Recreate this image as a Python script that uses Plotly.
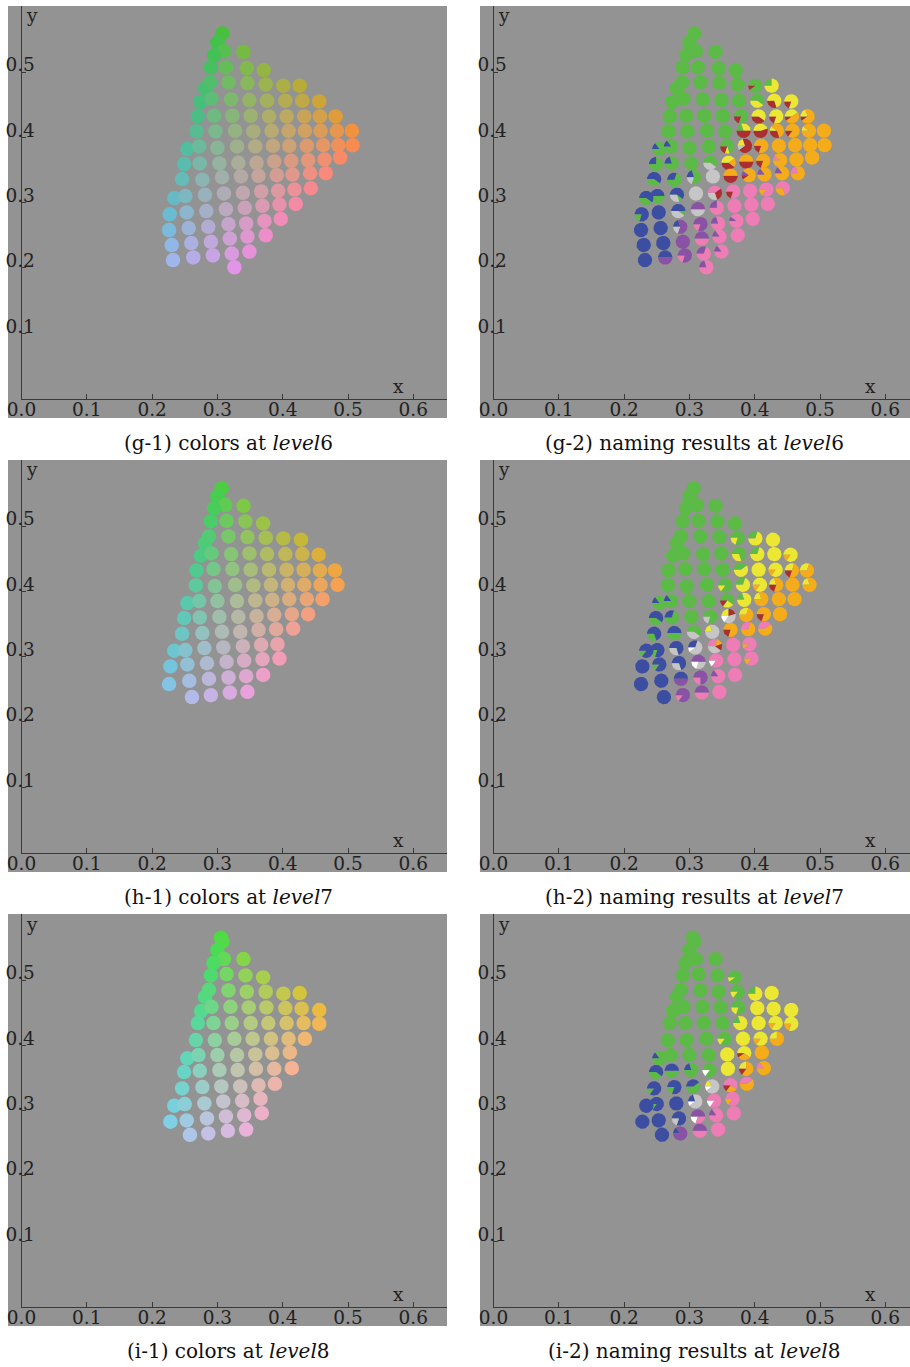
import numpy as np
import plotly.graph_objects as go

# ---------------- data ----------------
# level 6 : chromaticity coordinates of the sampled colours
X6 = [0.3075, 0.300, 0.310, 0.295, 0.340, 0.290, 0.313, 0.345, 0.371,
      0.281, 0.289, 0.317, 0.346, 0.374, 0.401, 0.426,
      0.274, 0.291, 0.321, 0.349, 0.376, 0.404, 0.430, 0.456,
      0.270, 0.295, 0.323, 0.351, 0.379, 0.406, 0.433, 0.457, 0.481,
      0.268, 0.297, 0.327, 0.355, 0.383, 0.409, 0.434, 0.458, 0.483, 0.506,
      0.254, 0.272, 0.300, 0.330, 0.358, 0.385, 0.410, 0.437, 0.462, 0.485, 0.507,
      0.249, 0.273, 0.303, 0.332, 0.360, 0.387, 0.413, 0.439, 0.464, 0.488,
      0.246, 0.277, 0.307, 0.336, 0.363, 0.391, 0.415, 0.442, 0.466,
      0.234, 0.251, 0.281, 0.310, 0.339, 0.367, 0.393, 0.418, 0.443,
      0.227, 0.253, 0.283, 0.313, 0.342, 0.369, 0.395, 0.420,
      0.226, 0.256, 0.286, 0.317, 0.344, 0.372, 0.397,
      0.230, 0.260, 0.290, 0.319, 0.346, 0.374,
      0.232, 0.263, 0.293, 0.322, 0.349,
      0.326]
Y6 = [0.559, 0.545, 0.532, 0.526, 0.531, 0.507, 0.507, 0.506, 0.503,
      0.475, 0.484, 0.484, 0.483, 0.481, 0.479, 0.479,
      0.454, 0.459, 0.458, 0.457, 0.456, 0.456, 0.456, 0.455,
      0.432, 0.433, 0.433, 0.433, 0.432, 0.432, 0.432, 0.432, 0.432,
      0.409, 0.409, 0.410, 0.409, 0.410, 0.410, 0.410, 0.410, 0.410, 0.410,
      0.382, 0.386, 0.384, 0.386, 0.386, 0.387, 0.387, 0.387, 0.388, 0.388, 0.388,
      0.359, 0.360, 0.360, 0.361, 0.361, 0.363, 0.364, 0.365, 0.366, 0.369,
      0.336, 0.335, 0.339, 0.340, 0.341, 0.342, 0.343, 0.345, 0.345,
      0.307, 0.310, 0.312, 0.314, 0.315, 0.317, 0.318, 0.320, 0.322,
      0.282, 0.285, 0.287, 0.290, 0.292, 0.295, 0.297, 0.298,
      0.258, 0.261, 0.263, 0.267, 0.268, 0.272, 0.275,
      0.235, 0.238, 0.240, 0.245, 0.248, 0.250,
      0.212, 0.216, 0.219, 0.222, 0.225,
      0.201]
# naming results (category:share) for level 6
N6 = ["G", "G", "G", "G", "G", "G", "G", "G", "G",
      "G", "G", "G", "G", "G", "G:.9,R:.1", "G:.25,Y:.75",
      "G", "G", "G", "G", "G", "G:.6,Y:.4", "Y:.7,R:.3", "Y:.8,R:.2",
      "G", "G", "G", "G", "G:.8,R:.2", "Y:.6,R:.4", "Y:.8,R:.2", "Y:.4,O:.5,R:.1", "Y:.2,O:.7,R:.1",
      "G", "G", "G", "G", "G:.2,Y:.3,R:.5", "Y:.45,R:.55", "Y:.1,O:.6,R:.3", "O:.85,R:.15", "Y:.1,O:.9", "O",
      "B:.15,G:.85", "B:.15,G:.85", "G", "G", "G:.7,Y:.1,R:.2", "Y:.2,R:.7,A:.1", "O:.8,R:.2", "O", "O", "O", "O",
      "B:.25,G:.75", "B:.2,G:.8", "G", "G:.6,A:.4", "Y:.4,O:.2,R:.4", "O:.5,R:.5", "O:.8,R:.2", "P:.1,O:.9", "O", "O",
      "B:.6,G:.4", "B:.3,G:.7", "B:.2,G:.6,A:.2", "A", "O:.5,R:.5", "U:.1,O:.8,R:.1", "U:.15,O:.85", "U:.15,O:.85", "P:.2,O:.8",
      "B:.6,G:.4", "B:.5,G:.5", "B:.6,G:.1,A:.3", "A", "P:.4,R:.3,A:.3", "P:.8,R:.2", "P", "P:.85,O:.15", "P:.7,O:.3",
      "B:.8,G:.2", "B", "B:.5,G:.1,A:.4", "U:.5,A:.5", "U:.25,P:.75", "P", "P", "P",
      "B", "B", "B:.2,U:.6,A:.2", "U:.8,P:.2", "U:.2,P:.8", "U:.1,P:.9", "P",
      "B", "B", "U", "U:.5,P:.5", "U:.15,P:.85", "P",
      "B", "B:.5,U:.5", "U:.8,P:.2", "U:.3,P:.7", "U:.15,P:.85",
      "U:.2,P:.8"]

# level 7
X7 = [0.3066, 0.300, 0.312, 0.295, 0.340, 0.290, 0.314, 0.343, 0.370,
      0.281, 0.287, 0.317, 0.346, 0.374, 0.401, 0.428,
      0.275, 0.291, 0.321, 0.349, 0.376, 0.404, 0.430, 0.455,
      0.268, 0.294, 0.323, 0.351, 0.379, 0.406, 0.432, 0.457, 0.480,
      0.267, 0.296, 0.327, 0.355, 0.382, 0.408, 0.433, 0.458, 0.484,
      0.254, 0.272, 0.300, 0.330, 0.358, 0.384, 0.410, 0.437, 0.461,
      0.249, 0.273, 0.303, 0.332, 0.360, 0.387, 0.414, 0.439,
      0.246, 0.277, 0.307, 0.335, 0.363, 0.390, 0.416,
      0.234, 0.251, 0.280, 0.309, 0.339, 0.367, 0.392,
      0.228, 0.254, 0.284, 0.314, 0.341, 0.369, 0.395,
      0.226, 0.257, 0.287, 0.317, 0.344, 0.370,
      0.261, 0.290, 0.319, 0.346]
Y7 = [0.558, 0.545, 0.532, 0.527, 0.531, 0.507, 0.508, 0.507, 0.504,
      0.4735, 0.484, 0.484, 0.483, 0.482, 0.481, 0.479,
      0.4545, 0.458, 0.457, 0.458, 0.457, 0.457, 0.457, 0.456,
      0.432, 0.434, 0.434, 0.433, 0.433, 0.433, 0.433, 0.432, 0.432,
      0.409, 0.408, 0.410, 0.409, 0.410, 0.410, 0.410, 0.410, 0.410,
      0.382, 0.385, 0.385, 0.385, 0.386, 0.387, 0.388, 0.388, 0.388,
      0.359, 0.360, 0.361, 0.361, 0.362, 0.364, 0.365, 0.365,
      0.335, 0.336, 0.338, 0.338, 0.341, 0.342, 0.343,
      0.309, 0.310, 0.313, 0.314, 0.316, 0.318, 0.319,
      0.285, 0.288, 0.290, 0.292, 0.294, 0.296, 0.297,
      0.258, 0.263, 0.266, 0.268, 0.270, 0.272,
      0.238, 0.241, 0.245, 0.246]
N7 = ["G", "G", "G", "G", "G", "G", "G", "G", "G",
      "G", "G", "G", "G", "G:.8,Y:.2", "G:.3,Y:.7", "Y",
      "G", "G", "G", "G", "G:.7,Y:.3", "G:.3,Y:.7", "Y", "Y:.85,O:.15",
      "G", "G", "G", "G", "G:.4,Y:.6", "Y", "Y:.85,O:.15", "Y:.3,O:.5,R:.2", "Y:.3,O:.7",
      "G", "G", "G", "G:.85,Y:.15", "G:.3,Y:.7", "Y:.85,O:.15", "Y:.2,O:.6,R:.2", "O", "Y:.2,O:.8",
      "B:.15,G:.85", "B:.15,G:.85", "G", "G", "G:.6,Y:.25,R:.15", "G:.2,Y:.8", "Y:.2,O:.8", "O", "O",
      "B:.6,G:.4", "B:.3,G:.7", "G", "G:.8,A:.2", "Y:.25,R:.2,A:.4,W:.15", "Y:.3,O:.7", "O:.8,R:.2", "O",
      "B:.7,G:.3", "B:.5,G:.5", "G:.6,A:.4", "Y:.2,A:.8", "O:.8,R:.2", "P:.3,O:.7", "P:.4,O:.6",
      "B:.85,G:.15", "B:.8,G:.2", "B:.7,A:.3", "B:.3,A:.6,W:.1", "P:.3,O:.15,R:.15,A:.4", "P", "P:.9,O:.1",
      "B", "B:.85,G:.15", "B:.7,A:.3", "U:.5,A:.3,W:.2", "P:.85,W:.15", "P", "P:.85,O:.15",
      "B", "B", "B:.5,U:.5", "U:.75,P:.25", "U:.15,P:.85", "P",
      "B", "U:.85,P:.15", "U:.5,P:.5", "P"]

# level 8
X8 = [0.3055, 0.3075, 0.300, 0.310, 0.294, 0.340, 0.290, 0.314, 0.343, 0.370,
      0.281, 0.287, 0.317, 0.345, 0.374, 0.401, 0.426,
      0.275, 0.291, 0.320, 0.348, 0.375, 0.404, 0.429, 0.456,
      0.270, 0.294, 0.322, 0.351, 0.378, 0.406, 0.432, 0.456,
      0.267, 0.296, 0.326, 0.354, 0.382, 0.409, 0.434,
      0.254, 0.271, 0.300, 0.330, 0.358, 0.384, 0.411,
      0.249, 0.273, 0.303, 0.331, 0.359, 0.387, 0.414,
      0.246, 0.277, 0.306, 0.335, 0.363, 0.388,
      0.234, 0.250, 0.280, 0.309, 0.338, 0.366,
      0.228, 0.253, 0.284, 0.313, 0.341, 0.368,
      0.258, 0.286, 0.316, 0.344]
Y8 = [0.5648, 0.5587, 0.546, 0.532, 0.526, 0.532, 0.507, 0.509, 0.507, 0.504,
      0.474, 0.485, 0.484, 0.482, 0.482, 0.479, 0.480,
      0.4525, 0.459, 0.459, 0.458, 0.458, 0.457, 0.456, 0.454,
      0.434, 0.434, 0.434, 0.434, 0.434, 0.434, 0.434, 0.433,
      0.408, 0.408, 0.410, 0.410, 0.410, 0.410, 0.410,
      0.380, 0.385, 0.385, 0.385, 0.386, 0.388, 0.389,
      0.359, 0.361, 0.362, 0.362, 0.364, 0.364, 0.365,
      0.334, 0.336, 0.337, 0.337, 0.339, 0.341,
      0.3075, 0.310, 0.311, 0.314, 0.315, 0.318,
      0.283, 0.285, 0.288, 0.291, 0.293, 0.296,
      0.263, 0.265, 0.269, 0.271]
N8 = ["G", "G", "G", "G", "G", "G", "G", "G", "G", "G:.9,Y:.1",
      "G", "G", "G", "G", "G:.85,Y:.15", "G:.25,Y:.75", "Y",
      "G", "G", "G", "G", "G:.8,Y:.2", "Y", "Y", "Y",
      "G", "G", "G", "G", "G:.2,Y:.8", "Y", "Y:.85,O:.15", "Y:.8,O:.2",
      "G", "G", "G", "G:.85,Y:.15", "Y", "Y:.85,O:.15", "Y:.25,O:.75",
      "B:.15,G:.85", "G", "G", "G", "Y", "Y:.6,O:.3,R:.1", "O",
      "B:.6,G:.4", "B:.5,G:.5", "B:.2,G:.8", "G:.85,W:.15", "Y", "Y:.25,O:.6,R:.15", "P:.15,O:.85",
      "B:.85,G:.15", "B:.8,G:.2", "B:.4,G:.6", "Y:.15,A:.75,W:.1", "P:.6,O:.25,R:.15", "P:.4,O:.6",
      "B", "B:.85,G:.15", "B", "B:.2,A:.7,W:.1", "P:.85,W:.15", "P:.85,O:.15",
      "B", "B", "B:.8,A:.2", "U:.5,P:.3,W:.2", "U:.15,P:.85", "P",
      "B", "B:.15,U:.85", "U:.5,P:.5", "P"]

LEVELS = ["6", "7", "8"]
ROW_TAGS = ["g", "h", "i"]
LUMINANCE = {"6": 0.385, "7": 0.45, "8": 0.53}
TICK_X = [0.0, 0.1, 0.2, 0.3, 0.4, 0.5, 0.6]
TICK_X_TEXT = ["0.0", "0.1", "0.2", "0.3", "0.4", "0.5", "0.6"]
TICK_Y = [0.1, 0.2, 0.3, 0.4, 0.5]
TICK_Y_TEXT = ["0.1", "0.2", "0.3", "0.4", "0.5"]

CAT_COLORS = {"G": "#5cba47", "Y": "#ece733", "O": "#f4ac1a", "R": "#ad2e2e",
              "P": "#ee7cb5", "U": "#8a52a5", "B": "#3c4ea2", "A": "#c6c6c6",
              "W": "#ffffff"}

# ---------------- styling / geometry ----------------
W, H = 910, 1367
PPU = 653.0                      # pixels per chromaticity unit
BG = "#939393"
AX = "#3a3a3a"
FONT = "DejaVu Serif, Liberation Serif, serif"
DOT_R = 7.2 / PPU

M = np.array([[3.2406, -1.5372, -0.4986],
              [-0.9689, 1.8758, 0.0415],
              [0.0557, -0.2040, 1.0570]])


def chroma_color(x, y, Yl):
    """xyY -> displayable sRGB, softened toward light gray for blue/purple tones."""
    X = x / y * Yl
    Z = (1 - x - y) / y * Yl
    lin = np.clip(M @ np.array([X, Yl, Z]), 0, 1)
    s = np.where(lin <= 0.0031308, 12.92 * lin, 1.055 * lin ** (1 / 2.4) - 0.055)
    f = 0.08 + 0.34 * max(0.0, lin[2] - 0.2) / 0.8
    s = (1 - f) * s + f * np.array([0.72, 0.82, 0.82])
    r, g, b = (np.clip(s, 0, 1) * 255).round().astype(int)
    return f"rgb({r},{g},{b})"


def parse(spec):
    if ":" not in spec:
        return [(spec, 1.0)]
    out = []
    for part in spec.split(","):
        k, v = part.split(":")
        out.append((k, float(v)))
    return out


fig = go.Figure()
layout_axes = {}
shapes = []
annotations = []

data = {"6": (X6, Y6, N6), "7": (X7, Y7, N7), "8": (X8, Y8, N8)}
txt_font = dict(family=FONT, size=18.5, color="#222222")

for r, lev in enumerate(LEVELS):
    xs, ys, names = data[lev]
    for c in range(2):
        k = r * 2 + c + 1
        dx, dy = 472 * c, 454 * r
        x0p = 21.5 + dx
        x1p = min(447 + dx, W)
        y0p = 398.5 + dy
        y1p = 6 + dy
        xa = "x" if k == 1 else f"x{k}"
        ya = "y" if k == 1 else f"y{k}"
        layout_axes["xaxis" if k == 1 else f"xaxis{k}"] = dict(
            domain=[x0p / W, x1p / W], range=[0, (x1p - x0p) / PPU],
            anchor=ya, showline=True, linecolor=AX, linewidth=1,
            ticks="inside", ticklen=5, tickcolor=AX, tickwidth=1,
            tickvals=TICK_X, ticktext=TICK_X_TEXT, tickfont=txt_font,
            ticklabelstandoff=-6, automargin=False,
            showgrid=False, zeroline=False, fixedrange=True)
        layout_axes["yaxis" if k == 1 else f"yaxis{k}"] = dict(
            domain=[1 - y0p / H, 1 - y1p / H], range=[0, (y0p - y1p) / PPU],
            anchor=xa, showline=True, linecolor=AX, linewidth=1,
            ticks="inside", ticklen=4, tickcolor=AX, tickwidth=1,
            tickvals=TICK_Y, ticktext=TICK_Y_TEXT, tickfont=txt_font,
            ticklabelstandoff=-18, ticklabelshift=-7, automargin=False,
            showgrid=False, zeroline=False, fixedrange=True)
        shapes.append(dict(type="rect", xref="paper", yref="paper", layer="below",
                           x0=(8 + dx) / W, x1=x1p / W,
                           y0=1 - (418 + dy) / H, y1=1 - (6 + dy) / H,
                           fillcolor=BG, line=dict(width=0)))
        annotations.append(dict(xref="paper", yref="paper", x=(398 + dx) / W,
                                y=1 - (386 + dy) / H, text="x", showarrow=False,
                                xanchor="center", yanchor="middle", font=txt_font))
        annotations.append(dict(xref="paper", yref="paper", x=(32 + dx) / W,
                                y=1 - (16 + dy) / H, text="y", showarrow=False,
                                xanchor="center", yanchor="middle", font=txt_font))
        tag = ROW_TAGS[r]
        if c == 0:
            cap = f"({tag}-1) colors at <i>level</i>{lev}"
            cx = 228
        else:
            cap = f"({tag}-2) naming results at <i>level</i>{lev}"
            cx = 694 - 472
        annotations.append(dict(xref="paper", yref="paper", x=(cx + dx) / W,
                                y=1 - (443 + dy) / H, text=cap, showarrow=False,
                                xanchor="center", yanchor="middle",
                                font=dict(family=FONT, size=20, color="#111111")))

        if c == 0:
            cols = [chroma_color(x, y, LUMINANCE[lev]) for x, y in zip(xs, ys)]
            fig.add_trace(go.Scatter(x=xs, y=ys, mode="markers", xaxis=xa, yaxis=ya,
                                     marker=dict(size=14.5, color=cols, line=dict(width=0)),
                                     hoverinfo="skip", showlegend=False))
        else:
            # pie markers: slices start at 9 o'clock and run clockwise.
            # Polygons are grouped so that no two overlapping ones share a trace
            # (keeps every slice fully filled).
            buckets = []   # list of dicts: key, centers, px, py
            for x, y, spec in zip(xs, ys, names):
                parts = parse(spec)
                tot = sum(v for _, v in parts)
                a = 180.0
                for key, v in parts:
                    span = 360.0 * v / tot
                    if span >= 359.9:
                        t = np.radians(np.linspace(360, 0, 48))
                        qx = list(x + DOT_R * np.cos(t)) + [None]
                        qy = list(y + DOT_R * np.sin(t)) + [None]
                    else:
                        n = max(4, int(span / 6) + 2)
                        t = np.radians(np.linspace(a, a - span, n))
                        qx = [x] + list(x + DOT_R * np.cos(t)) + [x, None]
                        qy = [y] + list(y + DOT_R * np.sin(t)) + [y, None]
                    a -= span
                    target = None
                    for b in buckets:
                        if b["key"] != key:
                            continue
                        if all((x - cx0) ** 2 + (y - cy0) ** 2 > (2.05 * DOT_R) ** 2
                               for cx0, cy0 in b["centers"]):
                            target = b
                            break
                    if target is None:
                        target = {"key": key, "centers": [], "px": [], "py": []}
                        buckets.append(target)
                    target["centers"].append((x, y))
                    target["px"] += qx
                    target["py"] += qy
            for b in buckets:
                col = CAT_COLORS[b["key"]]
                fig.add_trace(go.Scatter(x=b["px"], y=b["py"], mode="lines", fill="toself",
                                         fillcolor=col, line=dict(width=0, color=col),
                                         xaxis=xa, yaxis=ya, hoverinfo="skip",
                                         showlegend=False))

fig.update_layout(width=W, height=H, margin=dict(l=0, r=0, t=0, b=0),
                  paper_bgcolor="white", plot_bgcolor=BG, showlegend=False,
                  shapes=shapes, annotations=annotations, **layout_axes)
fig.write_html("out.html")
